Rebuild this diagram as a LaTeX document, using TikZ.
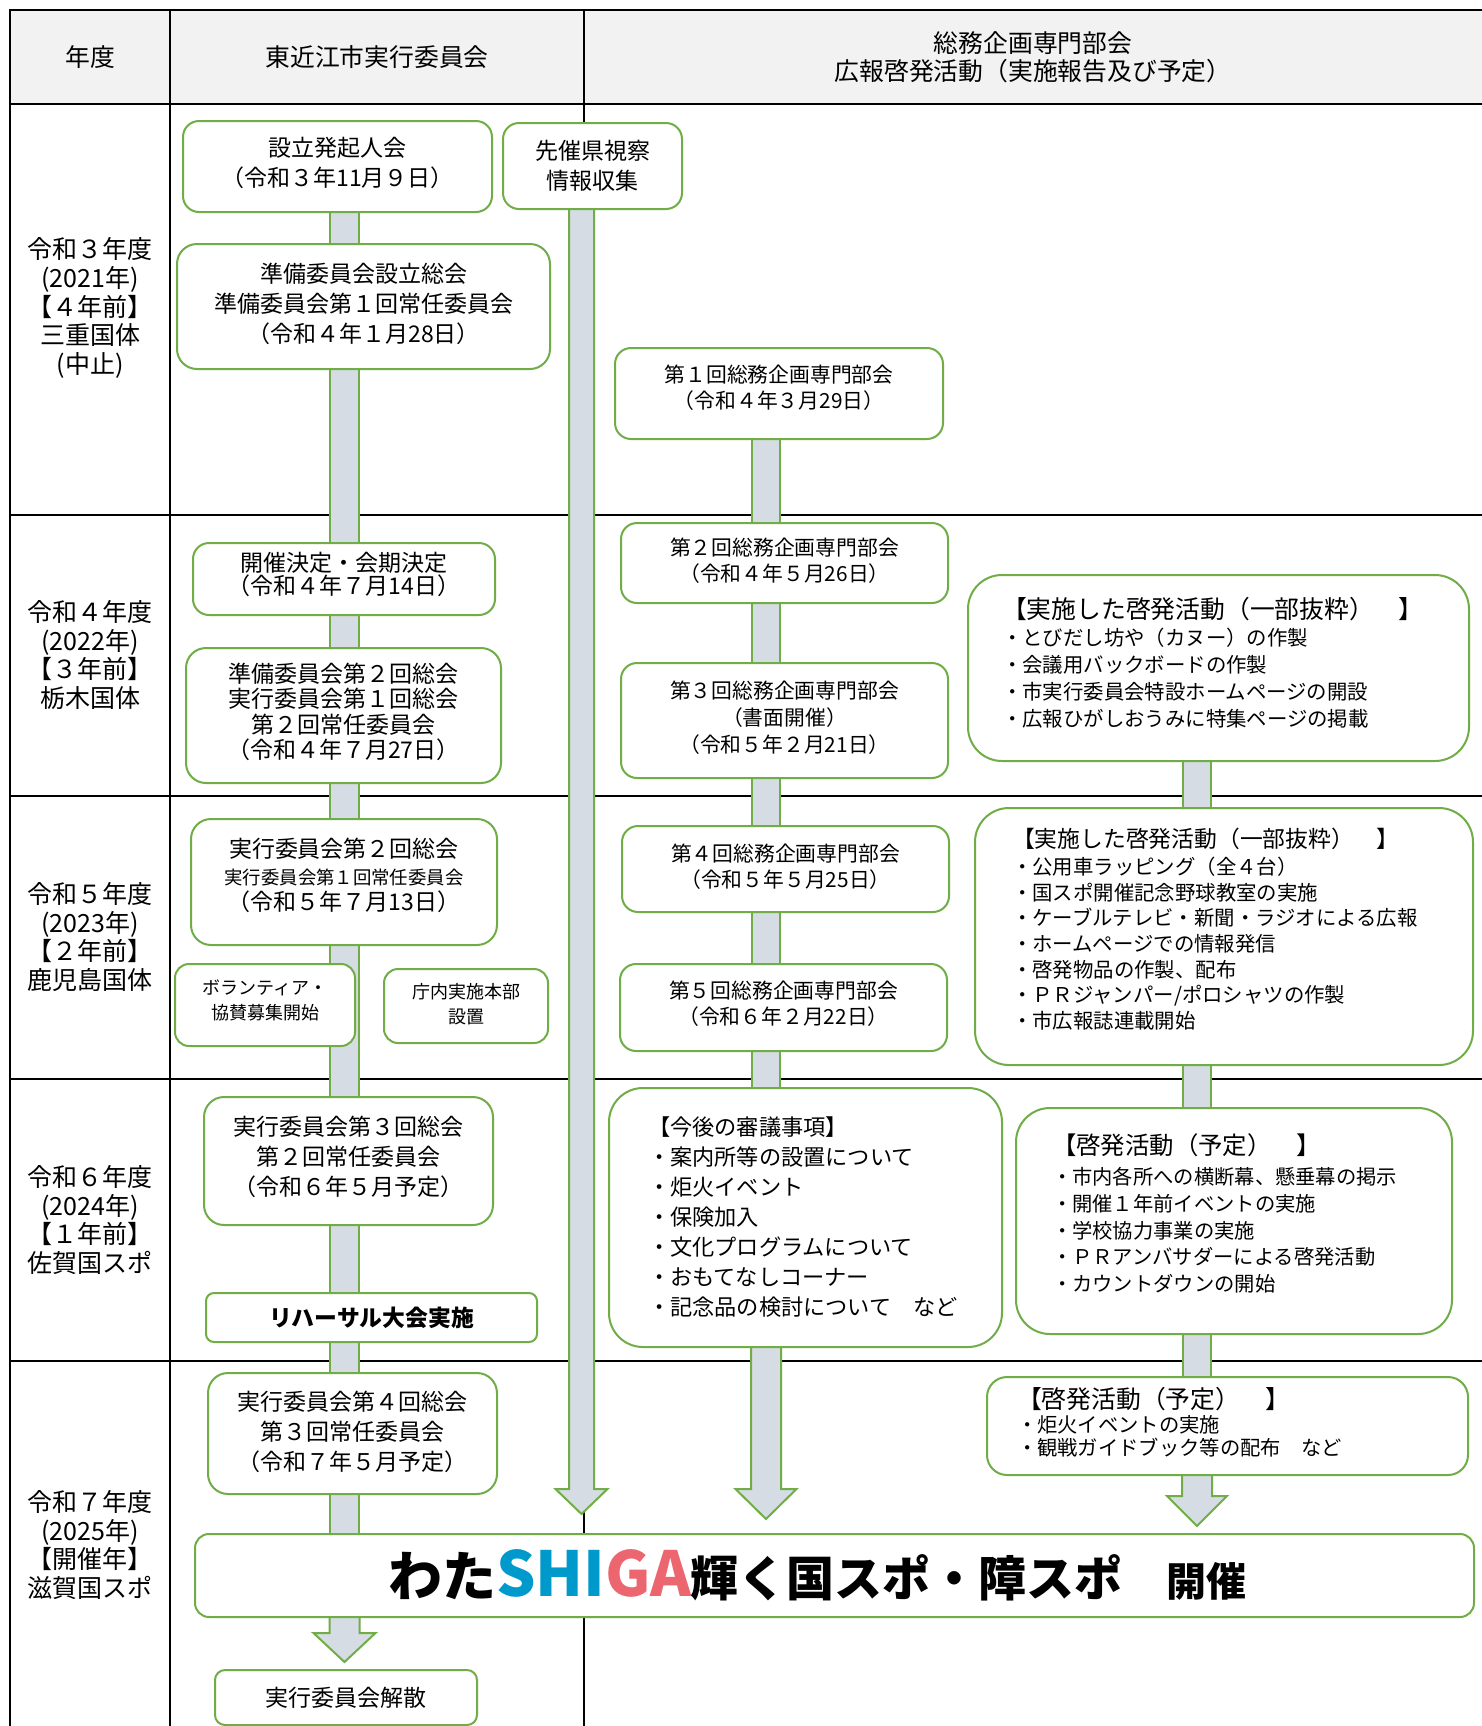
\documentclass[tikz,border=0pt]{standalone}
\usepackage{fontspec}
\setmainfont{Noto Sans CJK JP}
\usetikzlibrary{calc}

\definecolor{boxgreen}{RGB}{112,173,71}
\definecolor{barfill}{RGB}{214,220,228}
\definecolor{headgray}{RGB}{242,242,242}
\definecolor{shigablue}{RGB}{0,153,204}
\definecolor{shigapink}{RGB}{236,102,112}

\pgfdeclarelayer{background}
\pgfsetlayers{background,main}

\newcommand{\fsz}[2]{\fontsize{#1pt}{#2pt}\selectfont}
\newcommand{\dropdepth}[1]{\rule[-#1pt]{0pt}{0pt}}
\newcommand{\fatarrow}[5]{%
  \filldraw[arrowline] let \p1=#1, \p2=#2 in
    (\x1-#3,\y1) -- (\x1-#3,\y2+#5) -- (\x1-#4,\y2+#5) -- (\x1,\y2)
    -- (\x1+#4,\y2+#5) -- (\x1+#3,\y2+#5) -- (\x1+#3,\y1);}

\begin{document}
\begin{tikzpicture}[x=0.5pt, y=-0.5pt,
  grid/.style={line width=1.4pt, line cap=rect},
  headlbl/.style={align=center, font=\fsz{12.4}{13.8}},
  yearlbl/.style={align=center, font=\fsz{12.5}{14.3}},
  wh/.style 2 args={minimum width=#1*0.5pt, minimum height=#2*0.5pt},
  box/.style={draw=boxgreen, line width=1pt, fill=white, rounded corners=8pt,
    inner sep=0pt, align=center, font=\fsz{11.5}{15}},
  bubox/.style={box, font=\fsz{10.4}{13}},
  smallbox/.style={box, rounded corners=7pt, font=\fsz{9}{12.5}},
  listbox/.style={box, align=left, rounded corners=17pt},
  bar/.style={draw=boxgreen, line width=1pt, double=barfill, double distance=#1},
  bar/.default=13pt,
  arrowline/.style={draw=boxgreen, line width=1pt, fill=barfill, line join=miter}]

  \useasboundingbox (0,0) rectangle (1482,1726);

  \begin{pgfonlayer}{background}
    \fill[white] (0,0) rectangle (1482,1726);
    \fill[headgray] (10,10) rectangle (1482,104);
    \foreach \y in {10,104,515,796,1079,1361}
      \draw[grid] (10,\y) -- (1482,\y);
    \foreach \x in {10,170,584}
      \draw[grid] (\x,10) -- (\x,1726);
  \end{pgfonlayer}

  % header and years
  \node[headlbl] (hdyear) at (90,57) {年度};
  \node[headlbl] (hdcity) at (377,57) {東近江市実行委員会};
  \node[headlbl] (hdbu) at (1033,57) {総務企画専門部会\\広報啓発活動（実施報告及び予定）};

  \node[yearlbl] (yr3) at (90,308) {令和３年度\\(2021年)\\【４年前】\\三重国体\\(中止)};
  \node[yearlbl] (yr4) at (90,655) {令和４年度\\(2022年)\\【３年前】\\栃木国体};
  \node[yearlbl] (yr5) at (90,937) {令和５年度\\(2023年)\\【２年前】\\鹿児島国体};
  \node[yearlbl] (yr6) at (90,1220) {令和６年度\\(2024年)\\【１年前】\\佐賀国スポ};
  \node[yearlbl] (yr7) at (90,1545) {令和７年度\\(2025年)\\【開催年】\\滋賀国スポ};

  \coordinate (c1) at (344.5,0);
  \coordinate (c2) at (581.5,0);
  \coordinate (c3) at (766,0);
  \coordinate (c4) at (1197,0);

  % committee
  \node[box, wh={309}{91}] (kiki) at (337.5,166.5) {設立発起人会\\（令和３年11月９日）\dropdepth{4.2}};
  \node[box, wh={373}{125}, rounded corners=10pt] (junbi) at (363.5,306.5)
    {準備委員会設立総会\\準備委員会第１回常任委員会\\（令和４年１月28日）\dropdepth{4.2}};
  \node[box, wh={302}{72}, font=\fsz{11.5}{11.2}] (kaisai) at (344,579)
    {開催決定・会期決定\\（令和４年７月14日）\dropdepth{5.8}};
  \node[box, wh={315}{135}, rounded corners=10pt, font=\fsz{11.5}{12.7}] (junbi2) at (343.5,715.5)
    {準備委員会第２回総会\\実行委員会第１回総会\\第２回常任委員会\\（令和４年７月27日）\dropdepth{4.7}};
  \node[box, wh={306}{126}, rounded corners=10pt, font=\fsz{11.5}{13.25}] (jikko2) at (344,882)
    {実行委員会第２回総会\\{\fsz{9.2}{13.25}実行委員会第１回常任委員会}\\（令和５年７月13日）\dropdepth{7.4}};
  \node[smallbox, wh={180}{82}] (volunteer) at (265,1005) {ボランティア・\\協賛募集開始\dropdepth{5.5}};
  \node[smallbox, wh={164}{74}] (chonai) at (466,1006) {庁内実施本部\\設置\dropdepth{2.8}};
  \node[box, wh={289}{128}, rounded corners=10pt] (jikko3) at (348.5,1161)
    {実行委員会第３回総会\\第２回常任委員会\\（令和６年５月予定）\dropdepth{5.2}};
  \node[box, wh={331}{49}, rounded corners=4pt, font=\fsz{11.4}{13}\bfseries] (rehearsal) at (371.5,1317.5)
    {リハーサル大会実施};
  \node[box, wh={289}{121}, rounded corners=10pt] (jikko4) at (352.5,1433.5)
    {実行委員会第４回総会\\第３回常任委員会\\（令和７年５月予定）\dropdepth{3}};
  \node[box, wh={1279}{83}, rounded corners=7pt] (banner) at (834.5,1575.5)
    {\bfseries{\fsz{27}{30}わた}{\fsz{31}{30}\textcolor{shigablue}{SHI}\textcolor{shigapink}{GA}}{\fsz{24}{30}輝く国スポ・障スポ}\hspace{22pt}{\fsz{20}{24}開催}\hspace{17pt}};
  \node[box, wh={262}{55}, rounded corners=5pt] (kaisan) at (346,1697.5) {実行委員会解散};

  \node[box, wh={179}{86}] (sensai) at (592.5,166) {先催県視察\\情報収集};

  % general affairs subcommittee
  \node[bubox, wh={328}{91}] (bu1) at (779,393.5) {第１回総務企画専門部会\\（令和４年３月29日）\dropdepth{6.9}};
  \node[bubox, wh={327}{80}] (bu2) at (784.5,563) {第２回総務企画専門部会\\（令和４年５月26日）\dropdepth{3}};
  \node[bubox, wh={327}{115}, font=\fsz{10.4}{13.5}] (bu3) at (784.5,720.5)
    {第３回総務企画専門部会\\（書面開催）\\（令和５年２月21日）\dropdepth{3.6}};
  \node[bubox, wh={327}{86}] (bu4) at (785.5,869) {第４回総務企画専門部会\\（令和５年５月25日）\dropdepth{3.6}};
  \node[bubox, wh={327}{87}] (bu5) at (783.5,1007.5) {第５回総務企画専門部会\\（令和６年２月22日）\dropdepth{4.7}};
  \node[listbox, wh={393}{259}, text width=157.5pt, font=\fsz{11.1}{15}] (kongo) at (805.5,1217.5)
    {【今後の審議事項】\\・案内所等の設置について\\・炬火イベント\\・保険加入\\・文化プログラムについて\\・おもてなしコーナー\\・記念品の検討について　など};

  % publicity
  \node[listbox, wh={501}{186}, text width=216.5pt, font=\fsz{10.2}{13.5}] (jisshi1) at (1218.5,668)
    {{\fsz{12.4}{13.5}【実施した啓発活動（一部抜粋）　】}\\
     ・とびだし坊や（カヌー）の作製\\・会議用バックボードの作製\\
     ・市実行委員会特設ホームページの開設\\・広報ひがしおうみに特集ページの掲載\dropdepth{6}};
  \node[listbox, wh={498}{257}, text width=212pt, font=\fsz{10.2}{12.85}] (jisshi2) at (1224,936.5)
    {{\fsz{11.4}{12.85}【実施した啓発活動（一部抜粋）　】}\\[0.6pt]
     ・公用車ラッピング（全４台）\\・国スポ開催記念野球教室の実施\\
     ・ケーブルテレビ・新聞・ラジオによる広報\\・ホームページでの情報発信\\
     ・啓発物品の作製、配布\\・ＰＲジャンパー/ポロシャツの作製\\・市広報誌連載開始\dropdepth{8.2}};
  \node[listbox, wh={436}{226}, text width=182pt, font=\fsz{10.15}{13.4}] (yotei1) at (1234,1221)
    {{\fsz{12.2}{13.4}【啓発活動（予定）　】}\\[1.4pt]
     ・市内各所への横断幕、懸垂幕の掲示\\・開催１年前イベントの実施\\
     ・学校協力事業の実施\\・ＰＲアンバサダーによる啓発活動\\・カウントダウンの開始\dropdepth{8.2}};
  \node[listbox, wh={481}{98}, rounded corners=10pt, text width=210.5pt, font=\fsz{10.15}{11.5}] (yotei2) at (1227.5,1426)
    {{\fsz{12.4}{11.5}【啓発活動（予定）　】}\\[0.5pt]
     ・炬火イベントの実施\\・観戦ガイドブック等の配布　など\dropdepth{4.2}};

  % bars and arrows
  \begin{pgfonlayer}{background}
    \draw[bar=13.5pt] (kiki.south -| c1) -- (junbi.north -| c1);
    \draw[bar=13.5pt] (junbi.south -| c1) -- (kaisai.north -| c1);
    \draw[bar=13.5pt] (kaisai.south -| c1) -- (junbi2.north -| c1);
    \draw[bar=13.5pt] (junbi2.south -| c1) -- (jikko2.north -| c1);
    \draw[bar=13.5pt] (jikko2.south -| c1) -- (jikko3.north -| c1);
    \draw[bar=13.5pt] (jikko3.south -| c1) -- (rehearsal.north -| c1);
    \draw[bar=13.5pt] (rehearsal.south -| c1) -- (jikko4.north -| c1);
    \draw[bar=13.5pt] (jikko4.south -| c1) -- (banner.north -| c1);
    \fatarrow{(banner.south -| c1)}{($(kaisan.north -| c1)+(0,-7)$)}{7.5pt}{15.5pt}{14.5pt}

    \fatarrow{(sensai.south -| c2)}{($(banner.north -| c2)+(0,-19)$)}{6.25pt}{13pt}{12.5pt}

    \draw[bar] (bu1.south -| c3) -- (bu2.north -| c3);
    \draw[bar] (bu2.south -| c3) -- (bu3.north -| c3);
    \draw[bar] (bu3.south -| c3) -- (bu4.north -| c3);
    \draw[bar] (bu4.south -| c3) -- (bu5.north -| c3);
    \draw[bar] (bu5.south -| c3) -- (kongo.north -| c3);
    \fatarrow{(kongo.south -| c3)}{($(banner.north -| c3)+(0,-14)$)}{7.5pt}{15.25pt}{15pt}

    \draw[bar] (jisshi1.south -| c4) -- (jisshi2.north -| c4);
    \draw[bar] (jisshi2.south -| c4) -- (yotei1.north -| c4);
    \draw[bar] (yotei1.south -| c4) -- (yotei2.north -| c4);
    \fatarrow{(yotei2.south -| c4)}{($(banner.north -| c4)+(0,-7)$)}{7.5pt}{15pt}{15pt}
  \end{pgfonlayer}
\end{tikzpicture}
\end{document}
